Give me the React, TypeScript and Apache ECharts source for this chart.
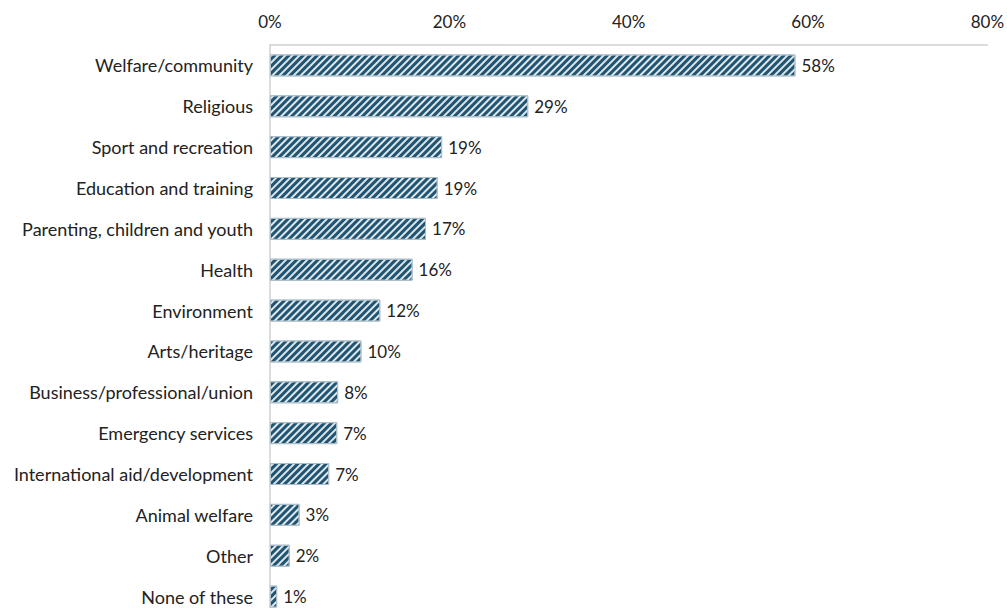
import React, { useEffect, useRef } from "react";
import * as echarts from "echarts";

const categories = [
  "Welfare/community",
  "Religious",
  "Sport and recreation",
  "Education and training",
  "Parenting, children and youth",
  "Health",
  "Environment",
  "Arts/heritage",
  "Business/professional/union",
  "Emergency services",
  "International aid/development",
  "Animal welfare",
  "Other",
  "None of these",
];
const values = [58.6, 28.8, 19.2, 18.7, 17.4, 15.9, 12.3, 10.2, 7.6, 7.5, 6.6, 3.3, 2.2, 0.8];
const labels = ["58%", "29%", "19%", "19%", "17%", "16%", "12%", "10%", "8%", "7%", "7%", "3%", "2%", "1%"];
const xTicks = [0, 20, 40, 60, 80];

export default function App() {
  const ref = useRef<HTMLDivElement>(null);
  useEffect(() => {
    document.body.style.margin = "0";
    const chart = echarts.init(ref.current!, null, { renderer: "svg" });
    const font = "Lato, sans-serif";
    chart.setOption({
      animation: false,
      grid: { left: 270, top: 45, width: 718, height: 572, containLabel: false },
      xAxis: {
        type: "value",
        position: "top",
        min: 0,
        max: 80,
        interval: 20,
        axisLine: { show: true, lineStyle: { color: "#d0d0d0", width: 1.5 } },
        axisTick: { show: false },
        splitLine: { show: false },
        axisLabel: {
          formatter: (v: number) => (xTicks.includes(v) ? v + "%" : ""),
          color: "#222",
          fontSize: 17,
          fontFamily: font,
          margin: 15,
        },
      },
      yAxis: {
        type: "category",
        inverse: true,
        data: categories,
        axisLine: { show: true, lineStyle: { color: "#d0d0d0", width: 1.5 } },
        axisTick: { show: false },
        axisLabel: { color: "#222", fontSize: 18, fontFamily: font, margin: 17 },
      },
      series: [
        {
          type: "bar",
          data: values,
          barWidth: 22,
          itemStyle: {
            color: "#1f5473",
            borderColor: "#a9bcc8",
            borderWidth: 1,
            decal: {
              symbol: "rect",
              symbolSize: 1,
              dashArrayX: [1, 0],
              dashArrayY: [2, 2.3],
              rotation: -Math.PI / 4,
              color: "rgba(255,255,255,0.85)",
            },
          },
          label: {
            show: true,
            position: "right",
            distance: 6,
            color: "#222",
            fontSize: 17,
            fontFamily: font,
            formatter: (p: any) => labels[p.dataIndex],
          },
        },
      ],
    });
    return () => chart.dispose();
  }, []);
  return (
    <div style={{ width: 1007, height: 608, overflow: "hidden" }}>
      <div ref={ref} style={{ width: 1007, height: 640 }} />
    </div>
  );
}
